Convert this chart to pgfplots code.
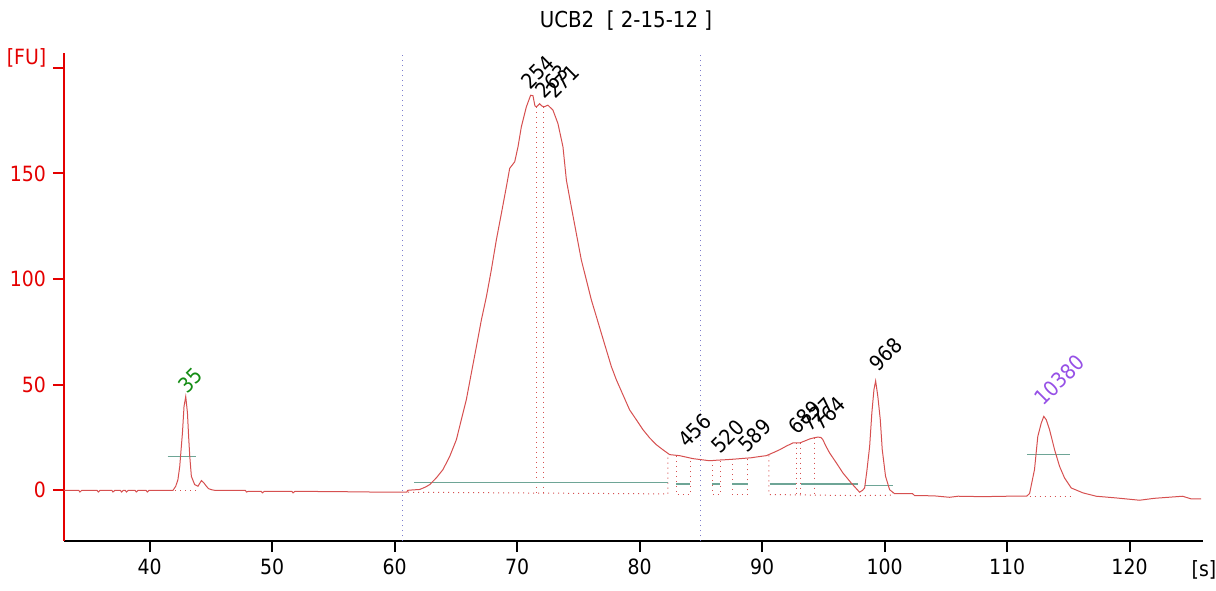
\documentclass[border=0pt]{standalone}
\usepackage{pgfplots}
\pgfplotsset{compat=1.18}
\usepackage{fontspec}
\setmainfont{DejaVu Sans}[FakeStretch=0.9]

\definecolor{axisred}{RGB}{228,0,0}
\definecolor{trace}{RGB}{214,80,80}
\definecolor{teal}{RGB}{110,165,150}
\definecolor{marker}{RGB}{125,125,205}
\definecolor{ladder}{RGB}{20,140,20}
\definecolor{upper}{RGB}{150,80,230}

\newcommand{\tfont}{\fontsize{10.5}{12}\selectfont}
\newcommand{\pfont}{\fontsize{10.5}{12}\selectfont}

\begin{document}
\begin{tikzpicture}
\begin{axis}[
scale only axis,
width=569.5pt,
height=244pt,
xmin=33, xmax=126,
ymin=-24, ymax=207,
axis x line=bottom,
axis y line=left,
axis line style={-},
x axis line style={black, line width=1pt},
y axis line style={axisred, line width=1pt},
xtick={40,50,...,120},
ytick={0,50,100,150,200},
yticklabels={0,50,100,150,{}},
tick align=outside,
major tick length=5.5pt,
xtick style={black, line width=1pt},
ytick style={axisred, line width=1pt},
xticklabel style={black, font=\tfont},
yticklabel style={text=axisred, font=\tfont},
/pgf/number format/assume math mode=true,
xlabel={[s]},
xlabel style={at={(rel axis cs:1,0)}, anchor=north, inner sep=0pt, yshift=-9.5pt, xshift=0.5pt, font=\tfont},
title={UCB2\ \ [ 2-15-12 ]},
title style={at={(rel axis cs:0.4934,1)}, anchor=base, yshift=6.8pt, font=\fontsize{11}{13}\selectfont},
clip=false,
]

% markers (lower / upper)
\addplot [marker, dotted, line width=0.5pt] coordinates {(60.6,-24) (60.6,207)};
\addplot [marker, dotted, line width=0.5pt] coordinates {(85.0,-24) (85.0,207)};

% peak baselines / boundaries
\addplot [trace, dotted, line width=0.5pt] coordinates {(42.1,-0.3) (43.9,-0.3)};
\addplot [trace, dotted, line width=0.5pt] coordinates {(61.1,-0.9) (82.31,-1.7) (82.31,16.5)};
\addplot [trace, dotted, line width=0.5pt] coordinates {(71.57,181.5) (71.57,-1.3)};
\addplot [trace, dotted, line width=0.5pt] coordinates {(72.19,181.5) (72.19,-1.4)};
\addplot [trace, dotted, line width=0.5pt] coordinates {(82.99,16.2) (82.99,-2) (84.14,-2) (84.14,15.3)};
\addplot [trace, dotted, line width=0.5pt] coordinates {(85.92,14.2) (85.92,-2) (86.58,-2) (86.58,14.3)};
\addplot [trace, dotted, line width=0.5pt] coordinates {(87.56,14.7) (87.56,-2) (88.84,-2) (88.84,15.3)};
\addplot [trace, dotted, line width=0.5pt] coordinates {(90.56,16.5) (90.56,-2) (97.9,-2.5) (100.68,-2.3) (100.68,-1)};
\addplot [trace, dotted, line width=0.5pt] coordinates {(92.79,22.4) (92.79,-2.2)};
\addplot [trace, dotted, line width=0.5pt] coordinates {(93.14,22.6) (93.14,-2.2)};
\addplot [trace, dotted, line width=0.5pt] coordinates {(94.29,24.9) (94.29,-2.3)};
\addplot [trace, dotted, line width=0.5pt] coordinates {(111.84,-2.8) (115.2,-2.8)};

% peak width lines
\addplot [teal, line width=0.6pt] coordinates {(41.47,16) (43.76,16)};
\addplot [teal, line width=0.6pt] coordinates {(111.62,17) (115.16,17)};
\addplot [teal, line width=0.6pt] coordinates {(61.58,3.8) (82.31,3.8)};
\addplot [teal, line width=0.6pt] coordinates {(82.99,3) (84.14,3)};
\addplot [teal, line width=0.6pt] coordinates {(85.92,3) (86.58,3)};
\addplot [teal, line width=0.6pt] coordinates {(87.56,3) (88.84,3)};
\addplot [teal, line width=0.6pt] coordinates {(90.61,3) (92.79,3)};
\addplot [teal, line width=0.6pt] coordinates {(93.2,3) (97.82,3)};
\addplot [teal, line width=0.6pt] coordinates {(98.37,2.2) (100.68,2.2)};

% electropherogram
\addplot [trace, line width=0.5pt] coordinates {
(33,0) (34.2,0) (34.3,-0.8) (34.45,0) (35.7,0) (35.8,-0.8) (35.95,0)
(36.9,0) (37.0,-0.8) (37.15,0) (37.6,0) (37.7,-0.8) (37.85,0) (38.0,0)
(38.1,-0.8) (38.25,0) (38.8,0) (38.9,-0.8) (39.05,0) (39.7,0) (39.8,-0.8)
(39.95,0) (41.9,0) (42.12,1.9) (42.3,5) (42.45,11.3) (42.57,20) (42.67,27.1)
(42.8,39.7) (42.94,44.4) (43.08,36.6) (43.18,25) (43.27,16) (43.4,6.6)
(43.67,2.7) (43.94,1.9) (44.05,3) (44.22,4.6) (44.41,3.6) (44.63,1.9)
(44.8,0.8) (45.04,0.3) (45.3,0) (47.8,0) (47.9,-0.8) (48.05,-0.5)
(49.1,-0.5) (49.2,-1.2) (49.35,-0.5) (51.6,-0.5) (51.7,-1.2) (51.85,-0.5)
(55,-0.6) (58,-0.8) (61.0,-0.8) (61.06,0) (61.5,0.2) (62.04,0.4)
(62.5,1.5) (62.86,2.7) (63.4,5.9) (63.94,9.8) (64.49,16) (65.04,24)
(65.44,33.4) (65.85,42.9) (66.26,55.5) (66.67,68) (67.08,80.7) (67.49,91.7)
(67.89,104.3) (68.3,118.5) (68.71,131) (69.12,143.7) (69.39,152.4)
(69.8,155.5) (70.07,162.6) (70.34,172) (70.75,181.5) (71.1,187)
(71.29,186.8) (71.45,182) (71.57,181.5) (71.84,183) (72.0,182)
(72.19,181.5) (72.51,182.3) (72.92,180) (73.33,173.6) (73.74,162.6)
(74.02,146.8) (74.42,134.2) (74.83,121.6) (75.24,109) (75.65,99.6)
(76.06,90.1) (76.47,82.2) (76.87,74.4) (77.28,66.5) (77.69,58.6)
(78.1,52.3) (78.64,45.2) (79.18,38.1) (79.73,33.4) (80.27,28.7)
(80.82,24.8) (81.36,21.6) (81.9,19.2) (82.45,16.9) (83.27,16.4)
(84.35,15) (85.04,14.5) (85.71,14) (86.4,14.3) (87.08,14.5) (87.8,14.8)
(88.43,15.1) (89.1,15.4) (89.8,16) (90.34,16.4) (90.9,17.8) (91.43,19.2)
(92.0,21) (92.51,22.4) (93.06,22.4) (93.5,23.4) (93.88,24.3) (94.2,24.8)
(94.55,25.2) (94.8,25) (94.96,24) (95.2,21) (95.51,17.7) (96.06,13)
(96.6,8.2) (97.27,3.5) (97.96,-0.9) (98.2,0) (98.37,1.1) (98.55,9)
(98.78,20.8) (98.96,36.6) (99.13,47.6) (99.27,51.8) (99.45,44.4)
(99.65,33.4) (99.81,19.2) (100.08,6.6) (100.41,0.3) (100.82,-1.6)
(102.29,-1.6) (102.45,-2.5) (104,-2.6) (105.31,-3.3) (106,-2.8) (108,-3.0)
(110,-2.8) (111.6,-2.8) (111.84,-1.5) (112.24,9.8) (112.51,25.5)
(112.79,31.8) (113,35) (113.2,33.4) (113.47,28.7) (113.88,19.2)
(114.29,11.3) (114.69,5.9) (115.24,1.1) (115.7,0) (116.19,-1.2)
(117.28,-2.8) (118.91,-3.6) (120.82,-4.7) (122,-3.8) (124.33,-2.8)
(125,-4) (125.85,-4.1)
};

% peak labels
\node[rotate=45, anchor=south west, inner sep=0pt, font=\pfont, text=ladder] at (axis cs:43.1,45.2) {35};
\node[rotate=45, anchor=south west, inner sep=0pt, font=\pfont] at (axis cs:71.1,189) {254};
\node[rotate=45, anchor=south west, inner sep=0pt, font=\pfont] at (axis cs:72.25,184.5) {263};
\node[rotate=45, anchor=south west, inner sep=0pt, font=\pfont] at (axis cs:73.1,184.5) {271};
\node[rotate=45, anchor=south west, inner sep=0pt, font=\pfont] at (axis cs:83.9,19.2) {456};
\node[rotate=45, anchor=south west, inner sep=0pt, font=\pfont] at (axis cs:86.6,16.4) {520};
\node[rotate=45, anchor=south west, inner sep=0pt, font=\pfont] at (axis cs:88.8,17) {589};
\node[rotate=45, anchor=south west, inner sep=0pt, font=\pfont] at (axis cs:92.88,25.7) {689};
\node[rotate=45, anchor=south west, inner sep=0pt, font=\pfont] at (axis cs:93.95,27.3) {727};
\node[rotate=45, anchor=south west, inner sep=0pt, font=\pfont] at (axis cs:94.9,27.3) {764};
\node[rotate=45, anchor=south west, inner sep=0pt, font=\pfont] at (axis cs:99.5,55.6) {968};
\node[rotate=45, anchor=south west, inner sep=0pt, font=\pfont, text=upper] at (axis cs:113.0,39.1) {10380};

% y unit
\node[anchor=base east, inner sep=0pt, font=\tfont, text=axisred, xshift=-8.65pt, yshift=1.75pt] at (axis cs:33,200) {[FU]};
\end{axis}
\pgfresetboundingbox
\path[use as bounding box] ([xshift=-32pt,yshift=-24.5pt]current axis.south west) rectangle ([xshift=6.5pt,yshift=26.5pt]current axis.north east);
\end{tikzpicture}
\end{document}
